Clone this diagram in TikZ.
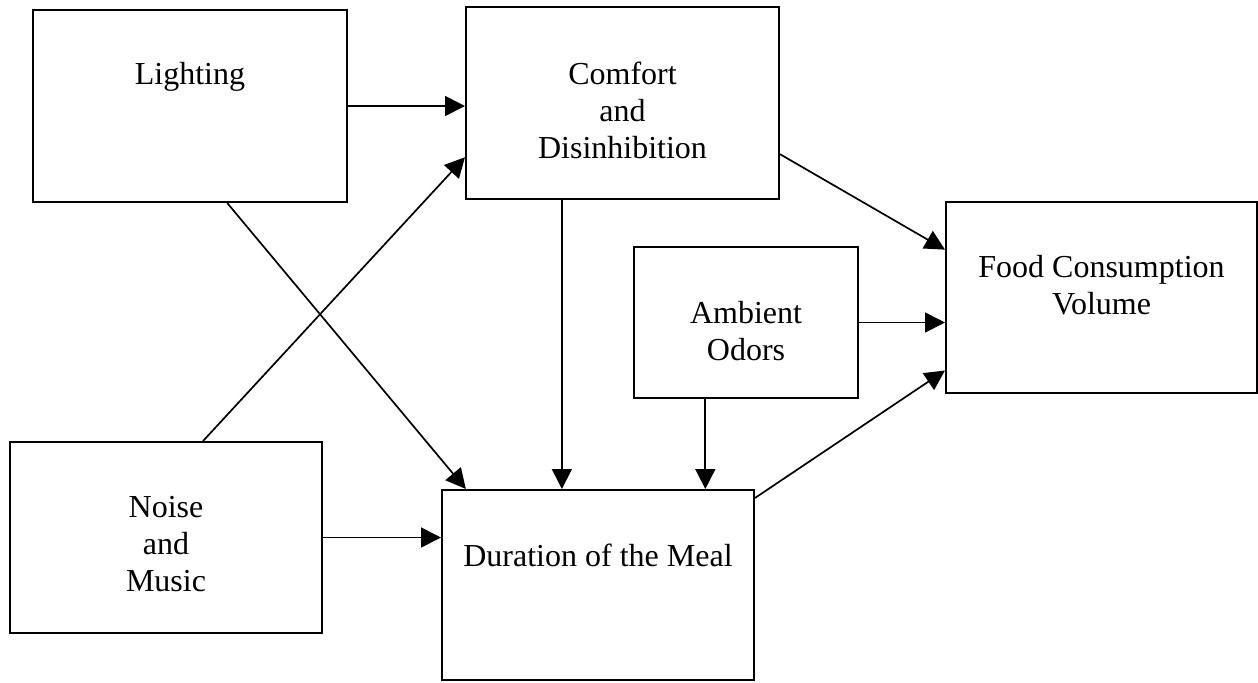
\documentclass[tikz,border=0pt]{standalone}
\usepackage{fontspec}
\setmainfont{Liberation Serif}
\usetikzlibrary{arrows.meta}

\begin{document}
\begin{tikzpicture}[>={Triangle[length=10pt,width=10pt]},x=0.5pt,y=-0.5pt,
                    box/.style={draw,line width=1pt,inner sep=0pt},
                    txt/.style={align=center,inner sep=0pt,font=\fontsize{16}{18.5}\selectfont},
                    link/.style={->,line width=0.85pt}]
                        \useasboundingbox (0,0) rectangle (1258,682);
                        \node[box,minimum width=157pt,minimum height=96pt] (light) at (190,106) {};
                        \node[box,minimum width=156.5pt,minimum height=96pt] (comfort) at (622.5,103) {};
                        \node[box,minimum width=155.5pt,minimum height=95.5pt] (food) at (1101.5,297.5) {};
                        \node[box,minimum width=112pt,minimum height=75.5pt] (odor) at (746,322.5) {};
                        \node[box,minimum width=156pt,minimum height=95.5pt] (noise) at (166,537.5) {};
                        \node[box,minimum width=156pt,minimum height=95pt] (meal) at (598,585) {};
                        \node[txt] (light-t) at (190,77) {Lighting};
                        \node[txt] (comfort-t) at (622.5,110) {Comfort\\and\\Disinhibition};
                        \node[txt] (food-t) at (1101.5,285) {Food Consumption\\Volume};
                        \node[txt] (odor-t) at (746,331) {Ambient\\Odors};
                        \node[txt] (noise-t) at (166,544) {Noise\\and\\Music};
                        \node[txt] (meal-t) at (598,555) {Duration of the Meal};
                        \draw[link] (light.east) -- (light.east -| comfort.west);
                        \draw[link] (light.-69) -- (meal.144.5);
                        \draw[link] (noise.69.3) -- (comfort.199);
                        \draw[link] (comfort.-122) -- (comfort.-122 |- meal.north);
                        \draw[link] (comfort.-18.4) -- (food.163);
                        \draw[link] (odor.east) -- (odor.east -| food.west);
                        \draw[link] (odor.-118) -- (odor.-118 |- meal.north);
                        \draw[link] (meal.29.4) -- (food.205.6);
                        \draw[link] (noise.east) -- (noise.east -| meal.west);
                    \end{tikzpicture}
\end{document}
